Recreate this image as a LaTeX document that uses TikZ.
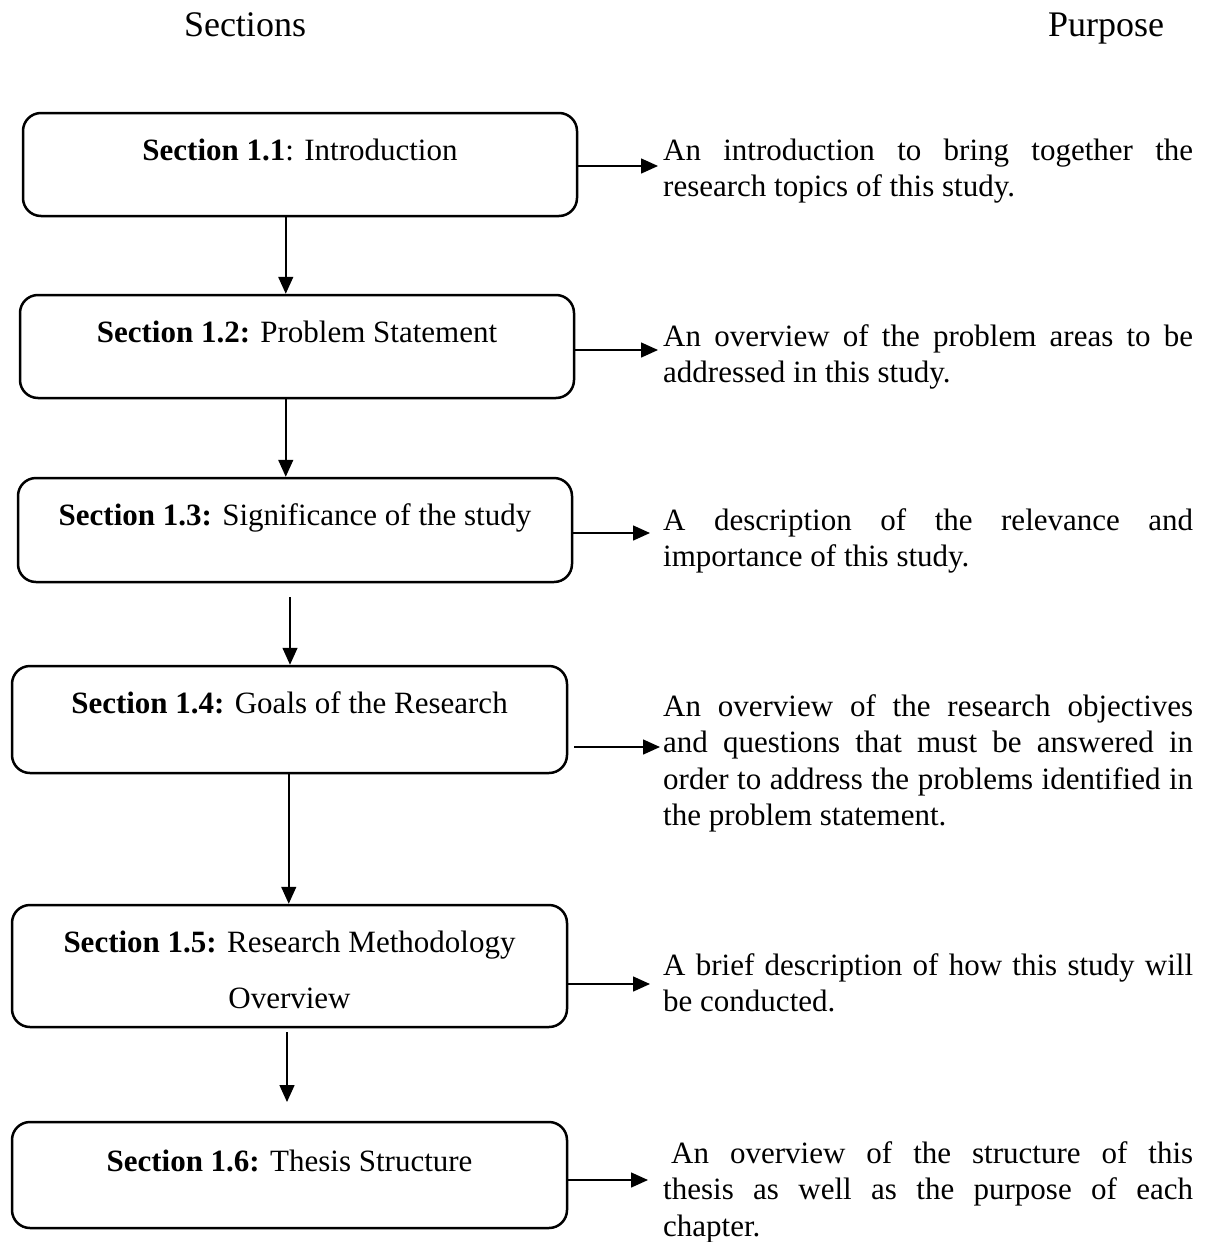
\documentclass[tikz,border=0pt]{standalone}
\usepackage{fontspec}
\setmainfont{Liberation Serif}
\usetikzlibrary{arrows.meta,calc}
\begin{document}
\begin{tikzpicture}[x=1pt,y=-1pt,
  secbox/.style={draw,line width=2.5pt,rounded corners=18pt,inner sep=0pt},
  sectext/.style={inner sep=0pt,anchor=base,font=\fontsize{31}{36.5}\selectfont},
  purpose/.style={inner sep=0pt,anchor=north west,text width=530pt,align=justify,
    font=\fontsize{31}{36.5}\selectfont},
  heading/.style={inner sep=0pt,anchor=base,font=\fontsize{36}{40}\selectfont},
  arr/.style={line width=1.5pt,-{Triangle[length=17pt,width=15pt]}}
]
\useasboundingbox (0,0) rectangle (1206,1242);

% column headings
\node[heading] (hs) at (245,36) {Sections};
\node[heading] (hp) at (1106,36) {Purpose};

% section boxes
\node[secbox,minimum width=554pt,minimum height=103pt] (b1) at (300,164.5) {};
\node[secbox,minimum width=554pt,minimum height=103pt] (b2) at (297,346.5) {};
\node[secbox,minimum width=554pt,minimum height=104pt] (b3) at (295,530) {};
\node[secbox,minimum width=555pt,minimum height=107pt] (b4) at (289.5,719.5) {};
\node[secbox,minimum width=555pt,minimum height=122pt] (b5) at (289.5,966) {};
\node[secbox,minimum width=555pt,minimum height=106pt] (b6) at (289.5,1175) {};

% box titles
\node[sectext] (t1) at (300,160) {\textbf{Section 1.1}: Introduction};
\node[sectext] (t2) at (297,342) {\textbf{Section 1.2:} Problem Statement};
\node[sectext] (t3) at (295,525) {\textbf{Section 1.3:} Significance of the study};
\node[sectext] (t4) at (289.5,713) {\textbf{Section 1.4:} Goals of the Research};
\node[sectext] (t5a) at (289.5,952) {\textbf{Section 1.5:} Research Methodology};
\node[sectext] (t5b) at (289.5,1008) {Overview};
\node[sectext] (t6) at (289.5,1171) {\textbf{Section 1.6:} Thesis Structure};

% purpose texts (first baseline minus strut height)
\tolerance=10000
\node[purpose] (p1) at (663,134.5) {\strut An introduction to bring together the\linebreak research topics of this study.};
\node[purpose] (p2) at (663,320.5) {\strut An overview of the problem areas to be\linebreak addressed in this study.};
\node[purpose] (p3) at (663,504.5) {\strut A description of the relevance and\linebreak importance of this study.};
\node[purpose] (p4) at (663,690.5) {\strut An overview of the research objectives\linebreak and questions that must be answered in\linebreak order to address the problems identified in\linebreak the problem statement.};
\node[purpose] (p5) at (663,949.5) {\strut A brief description of how this study will\linebreak be conducted.};
\node[purpose] (p6) at (663,1137.5) {\strut\hspace{8pt}An overview of the structure of this\linebreak thesis as well as the purpose of each\linebreak chapter.};

% arrow end points that float free of the boxes
\coordinate (s34) at (290,597);
\coordinate (s56) at (287,1032);
\coordinate (e56) at (287,1102);

% vertical flow
\draw[arr] ($(b1.south west)+(264,0)$) -- ($(b2.north west)+(267,0)$);
\draw[arr] ($(b2.south west)+(267,0)$) -- ($(b3.north west)+(269,0)$);
\draw[arr] (s34) -- (s34 |- b4.north);
\draw[arr] ($(b4.south west)+(278,0)$) -- ($(b5.north west)+(278,0)$);
\draw[arr] (s56) -- (e56);

% links to the purposes
\draw[arr] (b1.east |- 0,166) -- (658,166) coordinate (e1);
\draw[arr] (b2.east |- 0,350) -- (658,350) coordinate (e2);
\draw[arr] (b3.east |- 0,533) -- (650,533) coordinate (e3);
\draw[arr] ($(b4.east |- 0,747)+(6,0)$) -- (660,747) coordinate (e4);
\draw[arr] (b5.east |- 0,984) -- (650,984) coordinate (e5);
\draw[arr] (b6.east |- 0,1180) -- (648,1180) coordinate (e6);
\end{tikzpicture}
\end{document}
